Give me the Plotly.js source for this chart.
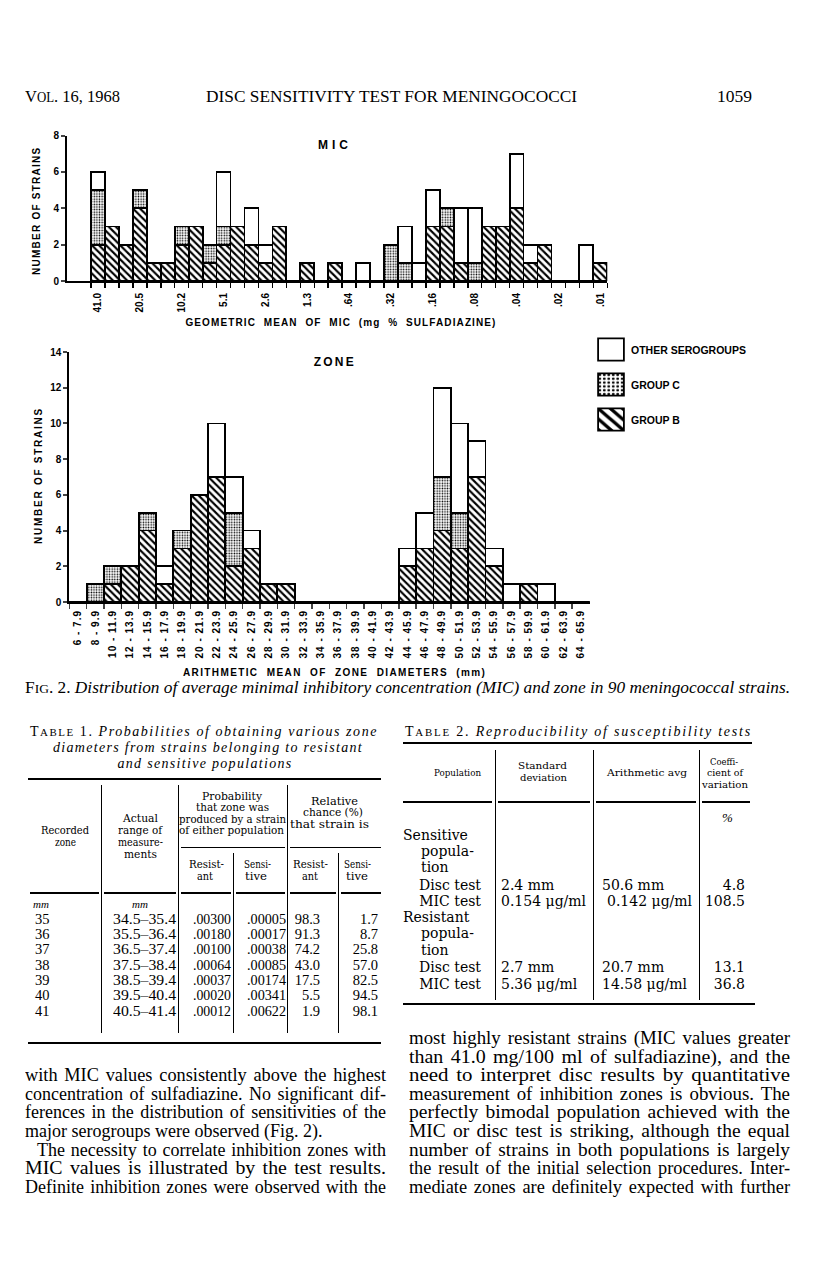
<!DOCTYPE html>
<html>
<head>
<meta charset="utf-8">
<script src="https://cdn.plot.ly/plotly-3.0.1.min.js"></script>
<style>
html,body{margin:0;padding:0;background:#fff;}
#page{position:relative;width:816px;height:1270px;overflow:hidden;background:#fff;}
#chart{position:absolute;left:0;top:0;width:816px;height:1270px;}
.t{position:absolute;white-space:nowrap;font-family:"Liberation Serif","Times New Roman",serif;color:#000;line-height:1;}
.r{position:absolute;background:#000;}
#chart .x2tick text{letter-spacing:1px;}
#chart .legendpoints path{transform:translate(20px,0px) scale(2.15,1.85);vector-effect:non-scaling-stroke;}
</style>
</head>
<body>
<div id="page"><div id="chart"></div></div>
<script>
// ---------------- DATA ----------------
// MIC histogram: 37 bins (three per two-fold dilution), labels on every third bin
const micLabels = ['41.0','20.5','10.2','5.1','2.6','1.3','.64','.32','.16','.08','.04','.02','.01'];
const micGroupB = [2,3,2,4,1,1,2,3,1,2,3,2,1,3,0,1,0,1,0,0,0,0,0,0,3,3,1,0,3,3,4,1,2,0,0,0,1];
const micGroupC = [3,0,0,1,0,0,1,0,1,1,0,0,0,0,0,0,0,0,0,0,0,2,1,0,0,1,0,1,0,0,0,0,0,0,0,0,0];
const micOther  = [1,0,0,0,0,0,0,0,0,3,0,2,1,0,0,0,0,0,0,1,0,0,2,1,2,0,3,3,0,0,3,1,0,0,0,2,0];

// Zone histogram: 30 bins of 2 mm
const zoneLabels = ['6 - 7.9','8 - 9.9','10 - 11.9','12 - 13.9','14 - 15.9','16 - 17.9','18 - 19.9',
  '20 - 21.9','22 - 23.9','24 - 25.9','26 - 27.9','28 - 29.9','30 - 31.9','32 - 33.9','34 - 35.9',
  '36 - 37.9','38 - 39.9','40 - 41.9','42 - 43.9','44 - 45.9','46 - 47.9','48 - 49.9','50 - 51.9',
  '52 - 53.9','54 - 55.9','56 - 57.9','58 - 59.9','60 - 61.9','62 - 63.9','64 - 65.9'];
const zoneGroupB = [0,0,1,2,4,1,3,6,7,2,3,1,1,0,0,0,0,0,0,2,3,4,3,7,2,0,1,0,0,0];
const zoneGroupC = [0,1,1,0,1,0,1,0,0,3,0,0,0,0,0,0,0,0,0,0,0,3,2,0,0,0,0,0,0,0];
const zoneOther  = [0,0,0,0,0,1,0,0,3,2,1,0,0,0,0,0,0,0,0,1,2,5,5,2,1,1,0,1,0,0];

const seriesNames = ['GROUP B','GROUP C','OTHER SEROGROUPS'];

// Table 1
const t1Zone  = ['35','36','37','38','39','40','41'];
const t1Range = ['34.5\u201335.4','35.5\u201336.4','36.5\u201337.4','37.5\u201338.4','38.5\u201339.4','39.5\u201340.4','40.5\u201341.4'];
const t1PRes  = ['.00300','.00180','.00100','.00064','.00037','.00020','.00012'];
const t1PSens = ['.00005','.00017','.00038','.00085','.00174','.00341','.00622'];
const t1CRes  = ['98.3','91.3','74.2','43.0','17.5','5.5','1.9'];
const t1CSens = ['1.7','8.7','25.8','57.0','82.5','94.5','98.1'];

// Table 2
const t2SD  = ['2.4 mm','0.154 \u03bcg/ml','2.7 mm','5.36 \u03bcg/ml'];
const t2Avg = ['50.6 mm','0.142 \u03bcg/ml','20.7 mm','14.58 \u03bcg/ml'];
const t2CV  = ['4.8','108.5','13.1','36.8'];

// ---------------- CHART ----------------
const W = 816, H = 1270;
const px = v => v / W, py = v => 1 - v / H;

const micBins = micGroupB.map((_, i) => i);
const micTickBins = micLabels.map((_, k) => 3 * k);
const micBounds = []; for (let i = 0; i <= micGroupB.length; i++) micBounds.push(i - 0.5);

const outline = {color: 'black', width: 1.8};
const patterns = [
  {shape: '\\', size: 5, solidity: 0.42, fgcolor: 'black', bgcolor: 'white'},
  {shape: '.', size: 2.6, solidity: 0.3, fgcolor: 'black', bgcolor: 'white'},
  {shape: '', fgcolor: 'black', bgcolor: 'white'}
];
const ranks = [3, 2, 1];
function barTrace(x, y, k, xa, ya, show) {
  return {type: 'bar', x: x, y: y, name: seriesNames[k], legendgroup: seriesNames[k], legendrank: ranks[k],
    showlegend: show, xaxis: xa, yaxis: ya, hoverinfo: 'skip',
    marker: {color: 'white', line: outline, pattern: patterns[k]}};
}
const traces = [
  barTrace(micBins, micGroupB, 0, 'x', 'y', false),
  barTrace(micBins, micGroupC, 1, 'x', 'y', false),
  barTrace(micBins, micOther, 2, 'x', 'y', false),
  barTrace(zoneLabels, zoneGroupB, 0, 'x2', 'y2', true),
  barTrace(zoneLabels, zoneGroupC, 1, 'x2', 'y2', true),
  barTrace(zoneLabels, zoneOther, 2, 'x2', 'y2', true)
];

const tickFont = {family: 'Liberation Sans, Arial, sans-serif', size: 10, weight: 'bold', color: 'black'};
const annFont = (s) => ({family: 'Liberation Sans, Arial, sans-serif', size: s, weight: 'bold', color: 'black'});
function ann(text, x, y, size, angle) {
  return {text: text, x: px(x), y: py(y), xref: 'paper', yref: 'paper', xanchor: 'center', yanchor: 'middle',
    showarrow: false, textangle: angle || 0, font: annFont(size)};
}

const layout = {
  width: W, height: H, margin: {l: 0, r: 0, t: 0, b: 0},
  paper_bgcolor: 'rgba(0,0,0,0)', plot_bgcolor: 'rgba(0,0,0,0)',
  barmode: 'stack', bargap: 0, hovermode: false,
  font: {family: 'Liberation Sans, Arial, sans-serif', color: 'black'},
  xaxis: {domain: [px(67), px(607.3)], range: [-2.22, 36.5], anchor: 'y',
    tickmode: 'array', tickvals: micTickBins, ticktext: micLabels, tickangle: -90,
    ticks: '', ticklabelstandoff: 6, tickfont: tickFont,
    showline: true, linewidth: 2, linecolor: 'black', showgrid: false, zeroline: false,
    minor: {tickmode: 'array', tickvals: micBounds, ticks: 'outside', ticklen: 5, tickwidth: 1.5, tickcolor: 'black', showgrid: false}},
  yaxis: {domain: [py(281), py(135.5)], range: [0, 8], anchor: 'x',
    tickmode: 'array', tickvals: [0, 2, 4, 6, 8], ticks: 'outside', ticklen: 4, tickwidth: 2,
    tickfont: tickFont, showline: true, linewidth: 2, linecolor: 'black', showgrid: false, zeroline: false},
  xaxis2: {domain: [px(69.3), px(589.5)], type: 'category', range: [-0.5, 29.5], anchor: 'y2',
    tickangle: -90, ticks: 'outside', tickson: 'boundaries', ticklen: 5, tickwidth: 1.5,
    ticklabelstandoff: 2, tickfont: tickFont,
    showline: true, linewidth: 2, linecolor: 'black', showgrid: false, zeroline: false},
  yaxis2: {domain: [py(602), py(352)], range: [0, 14], anchor: 'x2',
    tickmode: 'array', tickvals: [0, 2, 4, 6, 8, 10, 12, 14], ticks: 'outside', ticklen: 4, tickwidth: 2,
    tickfont: tickFont, showline: true, linewidth: 2, linecolor: 'black', showgrid: false, zeroline: false},
  legend: {x: px(591), y: py(335), xanchor: 'left', yanchor: 'top', traceorder: 'grouped',
    tracegroupgap: 16, itemwidth: 30, font: {family: 'Liberation Sans, Arial, sans-serif', size: 10.5, weight: 'bold', color: 'black'},
    bgcolor: 'rgba(0,0,0,0)', borderwidth: 0},
  annotations: [
    ann('MIC', 333, 145, 12),
    ann('ZONE', 333, 362, 12),
    ann('NUMBER OF STRAINS', 36, 211, 10, -90),
    ann('NUMBER OF STRAINS', 38, 476, 10, -90),
    ann('GEOMETRIC  MEAN  OF  MIC  (mg  %  SULFADIAZINE)', 340, 323, 10),
    ann('ARITHMETIC  MEAN  OF  ZONE  DIAMETERS  (mm)', 334, 672, 10)
  ]
};
const annWidths = [30, 40, 127, 135, 310, 302];

Plotly.newPlot('chart', traces, layout, {staticPlot: true, displayModeBar: false}).then(function () {
  document.querySelectorAll('#chart .annotation').forEach(function (g) {
    const i = +g.getAttribute('data-index');
    const t = g.querySelector('text.annotation-text');
    if (t && annWidths[i]) {
      t.setAttribute('textLength', annWidths[i]);
      t.setAttribute('lengthAdjust', 'spacing');
    }
  });
});

// ---------------- PAGE TEXT ----------------
const page = document.getElementById('page');
function put(html, x, y, o) {
  o = o || {};
  const el = document.createElement('div');
  el.className = 't';
  el.innerHTML = html;
  const s = el.style;
  s.fontSize = (o.size || 14) + 'px';
  if (o.font) s.fontFamily = o.font;
  if (o.italic) s.fontStyle = 'italic';
  if (o.bold) s.fontWeight = 'bold';
  page.appendChild(el);
  let r = el.getBoundingClientRect();
  let w = r.width; const h = r.height;
  let sx = 1;
  if (o.w) {
    const nsp = (el.textContent.match(/ /g) || []).length;
    if (o.mode === 'just' && nsp) {
      let extra = (o.w - w) / nsp;
      extra = Math.max(-1.2, Math.min(2.2, extra));
      s.wordSpacing = extra + 'px';
      const w2 = el.getBoundingClientRect().width;
      sx = o.w / w2;
    } else if (o.mode === 'ls') {
      s.letterSpacing = ((o.w - w) / el.textContent.length) + 'px';
    } else {
      sx = o.w / w;
    }
    w = o.w;
  }
  const a = o.align || 'left';
  const left = a === 'left' ? x : a === 'center' ? x - w / 2 : x - w;
  s.left = left + 'px';
  s.top = (y - h / 2) + 'px';
  if (sx !== 1) { s.transformOrigin = '0 0'; s.transform = 'scaleX(' + sx + ')'; }
  return el;
}
function hr(x1, x2, y, th) { const d = document.createElement('div'); d.className = 'r';
  d.style.left = x1 + 'px'; d.style.width = (x2 - x1) + 'px'; d.style.top = (y - th / 2) + 'px'; d.style.height = th + 'px'; page.appendChild(d); }
function vr(x, y1, y2, th) { const d = document.createElement('div'); d.className = 'r';
  d.style.left = (x - th / 2) + 'px'; d.style.width = th + 'px'; d.style.top = y1 + 'px'; d.style.height = (y2 - y1) + 'px'; page.appendChild(d); }

// Running head
put('V<span style="font-size:0.78em">OL</span>. 16, 1968', 25, 97, {size: 17.5, w: 95});
put('DISC SENSITIVITY TEST FOR MENINGOCOCCI', 206, 97, {size: 17.5, w: 371});
put('1059', 717, 97, {size: 17.5, w: 35});

// Figure caption
put('F<span style="font-size:0.78em">IG</span>. 2. <i>Distribution of average minimal inhibitory concentration (MIC) and zone in 90 meningococcal strains.</i>',
  25, 688, {size: 16, w: 765});

// ---- Table 1 ----
const sc = s => s[0] + '<span style="font-size:0.78em">' + s.slice(1) + '</span>';
put(sc('TABLE') + ' 1. <i>Probabilities of obtaining various zone</i>', 30, 732, {size: 14, w: 348, mode: 'ls'});
put('<i>diameters from strains belonging to resistant</i>', 208, 748, {size: 14, w: 310, mode: 'ls', align: 'center'});
put('<i>and sensitive populations</i>', 205, 764, {size: 14, w: 175, mode: 'ls', align: 'center'});
hr(28, 381, 779, 2.5);
const hdrFont = '"DejaVu Serif", serif';
function hc(t, x, y, w) { return put(t, x, y, {size: 10.5, font: hdrFont, align: 'center', w: w}); }
hc('Recorded', 65, 830, 48); hc('zone', 65, 842, 21);
hc('Actual', 140, 818, 35); hc('range of', 140, 830, 44); hc('measure-', 140, 842, 45); hc('ments', 140, 854, 33);
hc('Probability', 232, 796, 60); hc('that zone was', 232, 807.5, 73); hc('produced by a strain', 232, 819, 107); hc('of either population', 231, 830.5, 105);
hc('Relative', 334, 801, 47); hc('chance (%)', 333, 812.5, 60); hc('that strain is', 329, 824, 79);
hc('Resist-', 206, 864.5, 35); hc('ant', 205, 876, 16);
hc('Sensi-', 257, 864.5, 27); hc('tive', 256, 876, 22);
hc('Resist-', 310, 864.5, 35); hc('ant', 310, 876, 16);
hc('Sensi-', 357, 864.5, 27); hc('tive', 357, 876, 22);
hr(181, 285, 847, 1); hr(290, 381, 847, 1);
[[30, 99], [104, 176], [181, 231], [236, 285], [290, 336], [341, 381]].forEach(s => hr(s[0], s[1], 893, 1.2));
[101, 178, 287].forEach(x => vr(x, 785, 1033, 1));
[233, 338].forEach(x => vr(x, 853, 1033, 1));
put('mm', 33, 904, {size: 11, italic: true}); put('mm', 132, 904, {size: 11, italic: true});
t1Zone.forEach((z, i) => {
  const y = 919 + i * 15.3;
  put(z, 35, y, {size: 14.5});
  put(t1Range[i], 176, y, {size: 14.5, align: 'right', w: 63});
  put(t1PRes[i], 231, y, {size: 14.5, align: 'right', w: 38});
  put(t1PSens[i], 286, y, {size: 14.5, align: 'right', w: 39});
  put(t1CRes[i], 320, y, {size: 14.5, align: 'right'});
  put(t1CSens[i], 378, y, {size: 14.5, align: 'right'});
});
hr(28, 381, 1043, 2.5);

// ---- Table 2 ----
put(sc('TABLE') + ' 2. <i>Reproducibility of susceptibility tests</i>', 405, 732, {size: 14, w: 347, mode: 'ls'});
hr(403, 752, 743, 2.5);
function hc2(t, x, y, w) { return put(t, x, y, {size: 10, font: hdrFont, align: 'center', w: w}); }
hc2('Population', 457, 773, 47);
hc2('Standard', 542, 766, 49); hc2('deviation', 543, 777.5, 47);
hc2('Arithmetic avg', 647, 773, 80);
hc2('Coeffi-', 724, 761.5, 28); hc2('cient of', 725, 773, 36); hc2('variation', 725, 784.5, 46);
[[403, 492], [498, 590], [596, 696], [702, 750]].forEach(s => hr(s[0], s[1], 802, 1.2));
[495, 593, 699].forEach(x => vr(x, 750, 1000, 1));
put('%', 722, 817, {size: 13, italic: true});
const bf = {size: 14, font: '"DejaVu Serif", serif'};
put('Sensitive', 403, 835, bf);
put('popula-', 421, 851, bf);
put('tion', 421, 867, bf);
const t2Rows = [885, 901, 967, 984];
const t2RowNames = ['Disc test', 'MIC test', 'Disc test', 'MIC test'];
t2Rows.forEach((y, i) => {
  put(t2RowNames[i], 481, y, Object.assign({align: 'right'}, bf));
  put(t2SD[i], 501, y, bf);
  put(t2Avg[i], i === 1 ? 607 : 602, y, bf);
  put(t2CV[i], 745, y, Object.assign({align: 'right'}, bf));
});
put('Resistant', 403, 917, bf);
put('popula-', 421, 933, bf);
put('tion', 421, 950, bf);
hr(403, 755, 1004, 2.5);

// ---- Body text ----
const lh = 18.6, bsz = 18;
const leftLines = [
  ['with MIC values consistently above the highest', 25, true],
  ['concentration of sulfadiazine. No significant dif-', 25, true],
  ['ferences in the distribution of sensitivities of the', 25, true],
  ['major serogroups were observed (Fig. 2).', 25, false],
  ['The necessity to correlate inhibition zones with', 37, true],
  ['MIC values is illustrated by the test results.', 25, true],
  ['Definite inhibition zones were observed with the', 25, true]
];
const rightLines = [
  'most highly resistant strains (MIC values greater',
  'than 41.0 mg/100 ml of sulfadiazine), and the',
  'need to interpret disc results by quantitative',
  'measurement of inhibition zones is obvious. The',
  'perfectly bimodal population achieved with the',
  'MIC or disc test is striking, although the equal',
  'number of strains in both populations is largely',
  'the result of the initial selection procedures. Inter-',
  'mediate zones are definitely expected with further'
];
rightLines.forEach((t, i) => put(t, 409, 1038 + i * lh, {size: bsz, w: 381, mode: 'just'}));
leftLines.forEach((l, i) => {
  const o = {size: bsz};
  if (l[2]) { o.w = 386 - l[1]; o.mode = 'just'; }
  put(l[0], l[1], 1038 + (i + 2) * lh, o);
});
</script>
</body>
</html>
